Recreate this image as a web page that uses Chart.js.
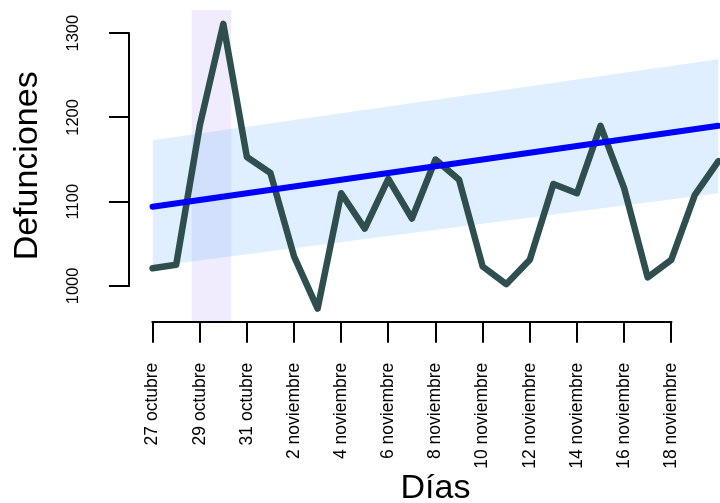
<!DOCTYPE html>
<html>
<head>
<meta charset="utf-8">
<script src="https://cdn.jsdelivr.net/npm/chart.js@4/dist/chart.umd.min.js"></script>
<style>
  html, body { margin: 0; padding: 0; background: #ffffff; overflow: hidden; }
  #wrap { width: 720px; height: 503px; overflow: hidden; position: relative; }
  #inner { width: 742px; height: 503px; }
</style>
</head>
<body>
<div id="wrap"><div id="inner"><canvas id="c" width="742" height="503"></canvas></div></div>
<script>
// ---- data ----
const tickDays = [0, 2, 4, 6, 8, 10, 12, 14, 16, 18, 20, 22];
const tickLabels = ['27 octubre', '29 octubre', '31 octubre', '2 noviembre', '4 noviembre', '6 noviembre',
  '8 noviembre', '10 noviembre', '12 noviembre', '14 noviembre', '16 noviembre', '18 noviembre'];
const days = [0, 1, 2, 3, 4, 5, 6, 7, 8, 9, 10, 11, 12, 13, 14, 15, 16, 17, 18, 19, 20, 21, 22, 23, 24];
const deaths = [1021, 1025, 1190, 1311, 1153, 1134, 1035, 973, 1110, 1068, 1127, 1080, 1150,
  1126, 1023, 1002, 1031, 1121, 1110, 1190, 1116, 1010, 1031, 1108, 1148];
const trendDays = [0, 24];
const trendValues = [1094, 1190];
const bandUpper = [1173, 1269];
const bandLower = [1023, 1110];
const highlightDays = [1.65, 3.35];
const yTicks = [1000, 1100, 1200, 1300];
const xMin = -1, xMax = 25, yMin = 957.5, yMax = 1327.5;

const FONT = '"Liberation Sans", Arial, Helvetica, sans-serif';
const pts = (xs, ys) => xs.map((x, i) => ({ x: x, y: ys[i] }));

const rAxes = {
  id: 'rAxes',
  afterDraw(chart) {
    const ctx = chart.ctx, xs = chart.scales.x, ys = chart.scales.y, a = chart.chartArea;
    ctx.save();
    ctx.strokeStyle = '#000';
    ctx.lineWidth = 2;
    ctx.lineCap = 'butt';
    ctx.beginPath();
    const yb = Math.round(a.bottom);
    ctx.moveTo(xs.getPixelForValue(tickDays[0]) - 1, yb);
    ctx.lineTo(xs.getPixelForValue(tickDays[tickDays.length - 1]) + 1, yb);
    const xl = Math.round(a.left);
    ctx.moveTo(xl, ys.getPixelForValue(yTicks[0]) + 1);
    ctx.lineTo(xl, ys.getPixelForValue(yTicks[yTicks.length - 1]) - 1);
    ctx.stroke();
    ctx.fillStyle = '#000';
    ctx.font = '16.5px ' + FONT;
    ctx.textAlign = 'center';
    ctx.textBaseline = 'middle';
    yTicks.forEach(v => {
      ctx.save();
      ctx.translate(a.left - 56, ys.getPixelForValue(v));
      ctx.rotate(-Math.PI / 2);
      ctx.fillText(String(v), 0, 0);
      ctx.restore();
    });
    ctx.restore();
  }
};

new Chart(document.getElementById('c'), {
  type: 'line',
  data: {
    datasets: [
      { // highlight column
        data: pts(highlightDays, highlightDays.map(() => yMax)),
        borderWidth: 0, pointRadius: 0, fill: 'start',
        backgroundColor: 'rgba(140,110,240,0.13)', order: 6
      },
      { // band lower
        data: pts(trendDays, bandLower),
        borderWidth: 0, pointRadius: 0, fill: false, order: 5
      },
      { // band upper
        data: pts(trendDays, bandUpper),
        borderWidth: 0, pointRadius: 0, fill: '-1',
        backgroundColor: 'rgba(30,144,255,0.14)', order: 4
      },
      { // deaths
        data: pts(days, deaths),
        borderColor: '#2F4F4F', borderWidth: 6.5, pointRadius: 0, tension: 0,
        borderJoinStyle: 'round', borderCapStyle: 'round', fill: false, order: 2
      },
      { // trend
        data: pts(trendDays, trendValues),
        borderColor: '#0000FF', borderWidth: 6, pointRadius: 0,
        borderCapStyle: 'round', fill: false, order: 1
      }
    ]
  },
  options: {
    responsive: false,
    animation: false,
    devicePixelRatio: 1,
    layout: { padding: { top: 10, right: 0, bottom: 0, left: 0 } },
    plugins: { legend: { display: false }, tooltip: { enabled: false } },
    scales: {
      x: {
        type: 'linear', min: xMin, max: xMax,
        afterBuildTicks: s => { s.ticks = tickDays.map(v => ({ value: v })); },
        afterFit: s => { s.height = 181.3; },
        border: { display: false },
        grid: { display: true, drawOnChartArea: false, drawTicks: true, tickLength: 21, color: '#000', lineWidth: 2 },
        ticks: {
          autoSkip: false, minRotation: 90, maxRotation: 90, padding: 20, color: '#000',
          font: { family: FONT, size: 17.5 },
          callback: (v, i) => tickLabels[i]
        },
        title: { display: true, text: 'Días', color: '#000', font: { family: FONT, size: 34, lineHeight: 1 }, padding: { top: 0, bottom: -3 } }
      },
      y: {
        type: 'linear', min: yMin, max: yMax,
        afterBuildTicks: s => { s.ticks = yTicks.map(v => ({ value: v })); },
        afterFit: s => { s.width = 129; },
        border: { display: false },
        grid: { display: true, drawOnChartArea: false, drawTicks: true, tickLength: 20, color: '#000', lineWidth: 2 },
        ticks: { display: false },
        title: { display: true, text: 'Defunciones', color: '#000', font: { family: FONT, size: 34, lineHeight: 1 }, padding: { top: 11, bottom: 0 } }
      }
    }
  },
  plugins: [rAxes]
});
</script>
</body>
</html>
